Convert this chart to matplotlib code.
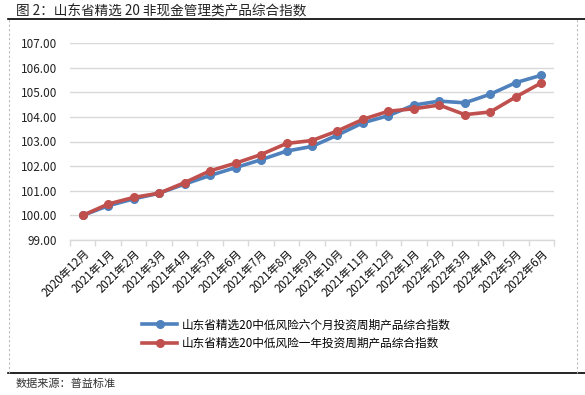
import matplotlib
matplotlib.use('Agg')
import matplotlib.pyplot as plt
from matplotlib.lines import Line2D

plt.rcParams['font.family'] = ['Noto Sans CJK SC', 'DejaVu Sans']

# Data
months = ['2020年12月', '2021年1月', '2021年2月', '2021年3月', '2021年4月',
          '2021年5月', '2021年6月', '2021年7月', '2021年8月', '2021年9月',
          '2021年10月', '2021年11月', '2021年12月', '2022年1月', '2022年2月',
          '2022年3月', '2022年4月', '2022年5月', '2022年6月']
six_month = [100.00, 100.39, 100.67, 100.90, 101.27, 101.62, 101.94, 102.26,
             102.61, 102.80, 103.26, 103.76, 104.05, 104.48, 104.64, 104.57,
             104.92, 105.39, 105.69]
one_year = [100.00, 100.46, 100.73, 100.90, 101.33, 101.81, 102.12, 102.47,
            102.92, 103.04, 103.43, 103.90, 104.23, 104.33, 104.48, 104.09,
            104.20, 104.81, 105.38]
series_names = ['山东省精选20中低风险六个月投资周期产品综合指数',
                '山东省精选20中低风险一年投资周期产品综合指数']
y_ticks = [99, 100, 101, 102, 103, 104, 105, 106, 107]

BLUE = '#4F81BD'
RED = '#C0504D'
GRID = '#D9D9D9'

fig = plt.figure(figsize=(5.85, 3.95), dpi=100)
ax = fig.add_axes([70 / 585, 1 - 240 / 395, 484 / 585, 197 / 395])

x = range(len(months))
ax.plot(x, six_month, color=BLUE, lw=2.6, marker='o', ms=5.5, label=series_names[0])
ax.plot(x, one_year, color=RED, lw=2.6, marker='o', ms=5.5, label=series_names[1])

ax.set_ylim(99, 107)
ax.set_yticks(y_ticks)
ax.set_yticklabels([f'{v:.2f}' for v in y_ticks], fontsize=8.5, color='#222222')
ax.yaxis.grid(True, color=GRID, lw=1)
ax.set_axisbelow(True)
ax.tick_params(axis='y', length=0, pad=9)

ax.set_xlim(-0.5, len(months) - 0.5)
ax.set_xticks(list(x))
ax.set_xticklabels(months, rotation=45, ha='right', va='top',
                   rotation_mode='anchor', fontsize=8.3, color='#111111')
ax.tick_params(axis='x', length=0, pad=5)
# tick marks between categories, Excel style
ax.set_xticks([i - 0.5 for i in range(len(months) + 1)], minor=True)
ax.tick_params(axis='x', which='minor', length=4, color=GRID, width=1)

for side in ['top', 'right', 'left']:
    ax.spines[side].set_visible(False)
ax.spines['bottom'].set_color(GRID)
ax.spines['bottom'].set_linewidth(1)

handles = [Line2D([], [], color=BLUE, lw=2.6, marker='o', ms=5.5),
           Line2D([], [], color=RED, lw=2.6, marker='o', ms=5.5)]
fig.legend(handles, series_names, loc='center', bbox_to_anchor=(0.507, 1 - 334 / 395),
           frameon=False, fontsize=8.4, handlelength=3, labelspacing=0.5,
           handletextpad=0.4)

# page frame
fig.add_artist(Line2D([8 / 585, 1], [1 - 19 / 395] * 2, color='black', lw=1.2,
                      transform=fig.transFigure))
fig.add_artist(Line2D([8 / 585, 1], [1 - 373 / 395] * 2, color='black', lw=1.2,
                      transform=fig.transFigure))
for xp in [9 / 585, 577 / 585]:
    fig.add_artist(Line2D([xp, xp], [1 - 373 / 395, 1 - 19 / 395], color='#BBBBBB',
                          lw=0.8, ls=(0, (2, 2)), transform=fig.transFigure))

fig.text(16 / 585, 1 - 11 / 395, '图 2：山东省精选 20 非现金管理类产品综合指数',
         fontsize=9.8, va='center', ha='left', color='#222222')
fig.text(16 / 585, 1 - 384 / 395, '数据来源：普益标准', fontsize=8,
         va='center', ha='left', color='#333333')

fig.savefig('out.png', dpi=100, facecolor='white')
